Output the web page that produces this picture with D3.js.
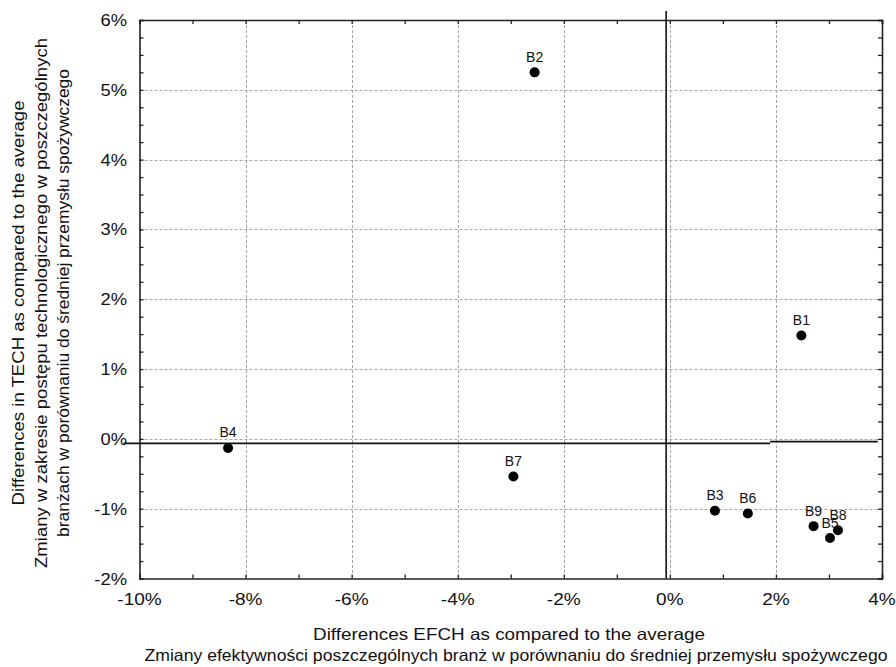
<!DOCTYPE html>
<html>
<head>
<meta charset="utf-8">
<script src="https://cdn.jsdelivr.net/npm/d3@7"></script>
<style>
  html, body { margin: 0; padding: 0; background: #fff; }
  svg { display: block; font-family: "Liberation Sans", Arial, sans-serif; }
</style>
</head>
<body>
<svg id="chart" width="896" height="667"></svg>
<script>
// ---- data ----
const labels = ["B1", "B2", "B3", "B4", "B5", "B6", "B7", "B8", "B9"];
const efch   = [2.48, -2.55, 0.85, -8.33, 3.02, 1.47, -2.95, 3.17, 2.71];   // x, %
const tech   = [1.48, 5.25, -1.03, -0.13, -1.42, -1.07, -0.54, -1.31, -1.25]; // y, %
const xTicks = [-10, -8, -6, -4, -2, 0, 2, 4];
const yTicks = [-2, -1, 0, 1, 2, 3, 4, 5, 6];
const xTitle = ["Differences EFCH as compared to the average",
                "Zmiany efektywności poszczególnych branż w porównaniu do średniej przemysłu spożywczego"];
const yTitle = ["Differences in TECH as compared to the average",
                "Zmiany w zakresie postępu technologicznego w poszczególnych",
                "branżach w porównaniu do średniej przemysłu spożywczego"];
// reference (mean) lines
const vRefX = -0.07;
const hRefSegments = [{x0: -10.3, x1: 1.89, y: -0.065}, {x0: 1.89, x1: 3.92, y: -0.04}];

// ---- layout ----
const svg = d3.select("#chart");
const L = 139.5, R = 882, T = 20, B = 578.5;
const x = d3.scaleLinear().domain([-10, 4]).range([L, R]);
const y = d3.scaleLinear().domain([-2, 6]).range([B, T]);
const px = v => Math.round(v) + 0.5;

// grid (dotted)
const gridX = xTicks.slice(1, -1), gridY = yTicks.slice(1, -1);
const gridG = svg.append("g").attr("class", "grid");
gridG.selectAll("line.gx").data(gridX).enter().append("line").attr("class", "gx")
  .attr("x1", d => px(x(d))).attr("x2", d => px(x(d))).attr("y1", T).attr("y2", B)
  .style("stroke", "#a6a6a6").style("stroke-width", "1px").style("stroke-dasharray", "3 2");
gridG.selectAll("line.gy").data(gridY).enter().append("line").attr("class", "gy")
  .attr("x1", L).attr("x2", R).attr("y1", d => px(y(d))).attr("y2", d => px(y(d)))
  .style("stroke", "#a6a6a6").style("stroke-width", "1px").style("stroke-dasharray", "3 2");

// axes (inward ticks)
const xMinor = d3.range(-10, 4.001, 1);
const yMinor = d3.range(-2, 6.001, 0.25);
const axB = d3.axisTop(x).tickValues(xMinor).tickSize(4).tickFormat("");
const axT = d3.axisBottom(x).tickValues(xMinor).tickSize(4).tickFormat("");
const axL = d3.axisRight(y).tickValues(yMinor).tickSize(4).tickFormat("");
const axR = d3.axisLeft(y).tickValues(yMinor).tickSize(4).tickFormat("");
function styleAxis(g) {
  g.select(".domain").attr("stroke", "#222").attr("stroke-width", 1.6);
  g.selectAll(".tick line").attr("stroke", "#222").attr("stroke-width", 1.3);
}
svg.append("g").attr("transform", `translate(0,${B})`).call(axB).call(styleAxis);
svg.append("g").attr("transform", `translate(0,${T})`).call(axT).call(styleAxis);
svg.append("g").attr("transform", `translate(${L},0)`).call(axL).call(styleAxis);
svg.append("g").attr("transform", `translate(${R},0)`).call(axR).call(styleAxis);

// tick labels
svg.append("g").selectAll("text").data(xTicks).join("text")
  .attr("transform", d => `translate(${x(d)},605) scale(1.12,1)`).attr("text-anchor", "middle")
  .attr("font-size", 17).attr("fill", "#111").text(d => d + "%");
svg.append("g").selectAll("text").data(yTicks).join("text")
  .attr("transform", d => `translate(127,${y(d) + 6}) scale(1.08,1)`).attr("text-anchor", "end")
  .attr("font-size", 17).attr("fill", "#111").text(d => d + "%");

// reference lines
svg.append("line")
  .attr("x1", x(vRefX)).attr("x2", x(vRefX)).attr("y1", 11).attr("y2", B)
  .attr("stroke", "#111").attr("stroke-width", 1.6);
svg.append("g").selectAll("line").data(hRefSegments).join("line")
  .attr("x1", d => x(d.x0)).attr("x2", d => x(d.x1))
  .attr("y1", d => y(d.y)).attr("y2", d => y(d.y))
  .attr("stroke", "#111").attr("stroke-width", 1.8);

// points
const pts = labels.map((l, i) => ({l, x: efch[i], y: tech[i]}));
svg.append("g").selectAll("circle").data(pts).join("circle")
  .attr("cx", d => x(d.x)).attr("cy", d => y(d.y)).attr("r", 5).attr("fill", "#000");
svg.append("g").selectAll("text").data(pts).join("text")
  .attr("x", d => x(d.x)).attr("y", d => y(d.y) - 10.5)
  .attr("text-anchor", "middle").attr("font-size", 14).attr("fill", "#111")
  .text(d => d.l);

// axis titles
const xTitleLen = [392, 743], xTitleCx = [509, 516];
svg.append("g").selectAll("text").data(xTitle).join("text")
  .attr("x", (d, i) => xTitleCx[i]).attr("y", (d, i) => 640 + i * 21)
  .attr("text-anchor", "middle").attr("font-size", 16.5).attr("fill", "#111")
  .attr("textLength", (d, i) => xTitleLen[i]).attr("lengthAdjust", "spacingAndGlyphs")
  .text(d => d);
const yTitleLen = [405, 530, 468];
svg.append("g").selectAll("text").data(yTitle).join("text")
  .attr("transform", (d, i) => `translate(${18 + i * 22.5},303) rotate(-90)`)
  .attr("text-anchor", "middle").attr("dominant-baseline", "central")
  .attr("font-size", 16.5).attr("fill", "#111")
  .attr("textLength", (d, i) => yTitleLen[i]).attr("lengthAdjust", "spacingAndGlyphs")
  .text(d => d);
</script>
</body>
</html>
